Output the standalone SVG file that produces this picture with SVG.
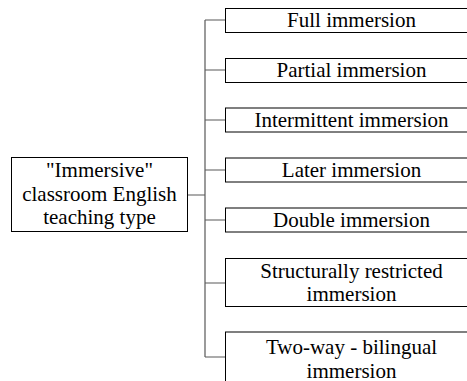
<svg xmlns="http://www.w3.org/2000/svg" width="467" height="381" viewBox="0 0 467 381">
<style>
.box{fill:#fff;stroke:#000;stroke-width:1}
.t{font-family:'Liberation Serif','Times New Roman',serif;font-size:21px;fill:#000;text-anchor:middle}
.c{stroke:#595959;stroke-width:1.2;fill:none}
</style>
<rect width="467" height="381" fill="#fff"/>
<g id="connectors">
<path class="c" d="M188 195H205M205 20V357M205 20H225M205 70H225M205 120H225M205 170H225M205 220H225M205 283H225M205 357H225"/>
</g>
<g id="root">
<rect class="box" x="11.5" y="157.5" width="176" height="74"/>
<text class="t" x="99.5" y="177">"Immersive"</text>
<text class="t" x="99.5" y="201">classroom English</text>
<text class="t" x="99.5" y="224">teaching type</text>
</g>
<g id="n1">
<rect class="box" x="225.5" y="8.5" width="255" height="24"/>
<text class="t" x="351.5" y="27">Full immersion</text>
</g>
<g id="n2">
<rect class="box" x="225.5" y="58.5" width="255" height="24"/>
<text class="t" x="351.5" y="77">Partial immersion</text>
</g>
<g id="n3">
<rect class="box" x="225.5" y="108" width="255" height="24"/>
<text class="t" x="351.5" y="127">Intermittent immersion</text>
</g>
<g id="n4">
<rect class="box" x="225.5" y="158" width="255" height="24"/>
<text class="t" x="351.5" y="177">Later immersion</text>
</g>
<g id="n5">
<rect class="box" x="225.5" y="208" width="255" height="24"/>
<text class="t" x="351.5" y="227">Double immersion</text>
</g>
<g id="n6">
<rect class="box" x="225.5" y="258.5" width="255" height="48"/>
<text class="t" x="351.5" y="278">Structurally restricted</text>
<text class="t" x="351.5" y="300.5">immersion</text>
</g>
<g id="n7">
<rect class="box" x="225.5" y="332" width="255" height="60"/>
<text class="t" x="351.5" y="354">Two-way - bilingual</text>
<text class="t" x="351.5" y="377.5">immersion</text>
</g>
</svg>
